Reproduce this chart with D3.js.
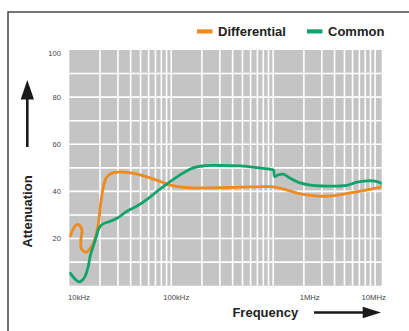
<!DOCTYPE html>
<html>
<head>
<meta charset="utf-8">
<script src="https://cdn.jsdelivr.net/npm/d3@7"></script>
<style>
  html, body { margin: 0; padding: 0; background: #fff; }
  svg { display: block; font-family: "Liberation Sans", Arial, sans-serif; }
</style>
</head>
<body>
<svg id="chart" width="409" height="331"></svg>
<script>
// Frequencies in kHz, attenuation in dB
const diffFreq = [10.2, 10.9, 11.9, 12.7, 13.3, 13.0, 13.0, 13.6, 14.6, 15.9, 17.0, 18.3, 19.4, 20.2, 21.4, 22.9, 25.6, 30.1, 36.8, 44.2, 56.6, 74.2, 93, 116.6, 160, 240, 473, 933, 1170, 1466, 1967, 2761, 3788, 5311, 7621, 11590];
const diffAtt  = [21.1, 24.0, 25.9, 25.5, 23.5, 19.5, 16.5, 14.8, 14.2, 15.6, 17.5, 21.5, 27.0, 34.0, 41.0, 45.6, 47.6, 48.2, 48.1, 47.6, 46.3, 44.6, 43.0, 42.0, 41.5, 41.5, 41.8, 42.0, 41.4, 40.2, 38.7, 38.0, 38.1, 39.2, 40.3, 41.9];

const commFreq = [10.2, 11.4, 12.5, 13.6, 14.6, 15.4, 16.1, 17.1, 18.3, 19.6, 21.4, 25.1, 29.4, 36.8, 46.2, 57.9, 72.6, 91, 122, 164, 215, 301, 473, 695, 975, 1009, 1032, 1117, 1251, 1466, 1836, 2301, 3020, 4539, 5433, 6502, 8337, 10230, 11590];
const commAtt  = [5.3, 2.8, 1.6, 2.6, 5.0, 8.5, 13.0, 16.5, 20.5, 24.5, 26.2, 27.3, 28.6, 31.6, 33.8, 36.6, 40.0, 43.2, 47.0, 50.0, 50.9, 51.0, 50.8, 50.1, 49.3, 49.0, 46.3, 47.0, 47.3, 45.6, 43.6, 42.7, 42.3, 42.3, 42.7, 43.8, 44.5, 44.3, 43.4];

const seriesNames = ["Differential", "Common"];
const yTickValues = [20, 40, 60, 80, 100];
const xTickValues = [10, 100, 1000, 10000];
const xTickLabels = ["10kHz", "100kHz", "1MHz", "10MHz"];

const colors = { Differential: "#EE8A1E", Common: "#11A36C" };

const svg = d3.select("#chart");

// Plot frame
const plot = { left: 69.3, right: 381.7, top: 50, bottom: 285.7 };
const x = d3.scaleLog().domain([10, 11600]).range([plot.left, plot.right]);
const y = d3.scaleLinear().domain([0, 100]).range([plot.bottom, plot.top]);

// Outer border (only left and top edges fall inside the page)
svg.append("rect")
  .attr("x", 8).attr("y", 12).attr("width", 420).attr("height", 340)
  .attr("fill", "none").attr("stroke", "#3a3a3a").attr("stroke-width", 1.4);

// Grey plot background
svg.append("rect")
  .attr("x", plot.left).attr("y", plot.top)
  .attr("width", plot.right - plot.left).attr("height", plot.bottom - plot.top)
  .attr("fill", "#C4C4C4");

// Grid
const grid = svg.append("g").attr("stroke", "#fff").attr("stroke-width", 1.6);
grid.selectAll("line.v").data(x.ticks().filter(d => d > 10))
  .join("line").attr("class", "v")
  .attr("x1", d => x(d)).attr("x2", d => x(d))
  .attr("y1", plot.top).attr("y2", plot.bottom);
grid.selectAll("line.h").data(y.ticks(10).filter(d => d > 0 && d < 100))
  .join("line").attr("class", "h")
  .attr("x1", plot.left).attr("x2", plot.right)
  .attr("y1", d => y(d)).attr("y2", d => y(d));

// Y tick labels
svg.append("g").selectAll("text").data(yTickValues).join("text")
  .attr("x", 61).attr("y", d => y(d) + (d === 100 ? 3 : 0))
  .attr("dy", "0.35em")
  .attr("text-anchor", "end")
  .attr("font-size", 7.6).attr("fill", "#444")
  .text(d => d);

// X tick labels (nudged horizontally for legibility)
const xLabelNudge = [9.7, 5, 36.5, -1.5];
svg.append("g").selectAll("text").data(xTickValues).join("text")
  .attr("x", (d, i) => x(d) + xLabelNudge[i]).attr("y", 300)
  .attr("text-anchor", "middle")
  .attr("font-size", 7.7).attr("fill", "#444")
  .text((d, i) => xTickLabels[i]);

// Curves
const line = d3.line()
  .x(d => x(d[0])).y(d => y(d[1]))
  .curve(d3.curveCatmullRom.alpha(0.5));

const seriesData = {
  Differential: d3.zip(diffFreq, diffAtt),
  Common: d3.zip(commFreq, commAtt)
};

svg.append("defs").append("clipPath").attr("id", "plotClip")
  .append("rect")
  .attr("x", plot.left).attr("y", plot.top)
  .attr("width", plot.right - plot.left).attr("height", plot.bottom - plot.top);

const curves = svg.append("g").attr("clip-path", "url(#plotClip)");
["Differential", "Common"].forEach(name => {
  curves.append("path")
    .datum(seriesData[name])
    .attr("fill", "none")
    .attr("stroke", colors[name])
    .attr("stroke-width", 2.8)
    .attr("stroke-linejoin", "round")
    .attr("stroke-linecap", "round")
    .attr("d", line);
});

// Legend
const legendX = [197, 307];
const legend = svg.append("g");
seriesNames.forEach((name, i) => {
  legend.append("rect")
    .attr("x", legendX[i]).attr("y", 29.3)
    .attr("width", 15.5).attr("height", 4.2)
    .attr("fill", colors[name]);
  legend.append("text")
    .attr("x", legendX[i] + 21).attr("y", 36.3)
    .attr("font-size", 13).attr("font-weight", "bold").attr("fill", "#222")
    .text(name);
});

// Axis titles with arrows
svg.append("text")
  .attr("transform", "translate(31.8,211.5) rotate(-90)")
  .attr("text-anchor", "middle")
  .attr("font-size", 13).attr("font-weight", "bold").attr("fill", "#222")
  .text("Attenuation");

svg.append("line")
  .attr("x1", 27.3).attr("x2", 27.3).attr("y1", 147).attr("y2", 98)
  .attr("stroke", "#1a1a1a").attr("stroke-width", 2.6);
svg.append("path")
  .attr("d", "M27.3,80 L34,99.5 L20.7,99.5 Z")
  .attr("fill", "#1a1a1a");

svg.append("text")
  .attr("x", 265.3).attr("y", 317.3)
  .attr("text-anchor", "middle")
  .attr("font-size", 13).attr("font-weight", "bold").attr("fill", "#222")
  .text("Frequency");

svg.append("line")
  .attr("x1", 314).attr("x2", 364).attr("y1", 312.5).attr("y2", 312.5)
  .attr("stroke", "#1a1a1a").attr("stroke-width", 2.4);
svg.append("path")
  .attr("d", "M381,312.5 L362.7,306.7 L362.7,318.3 Z")
  .attr("fill", "#1a1a1a");
</script>
</body>
</html>
